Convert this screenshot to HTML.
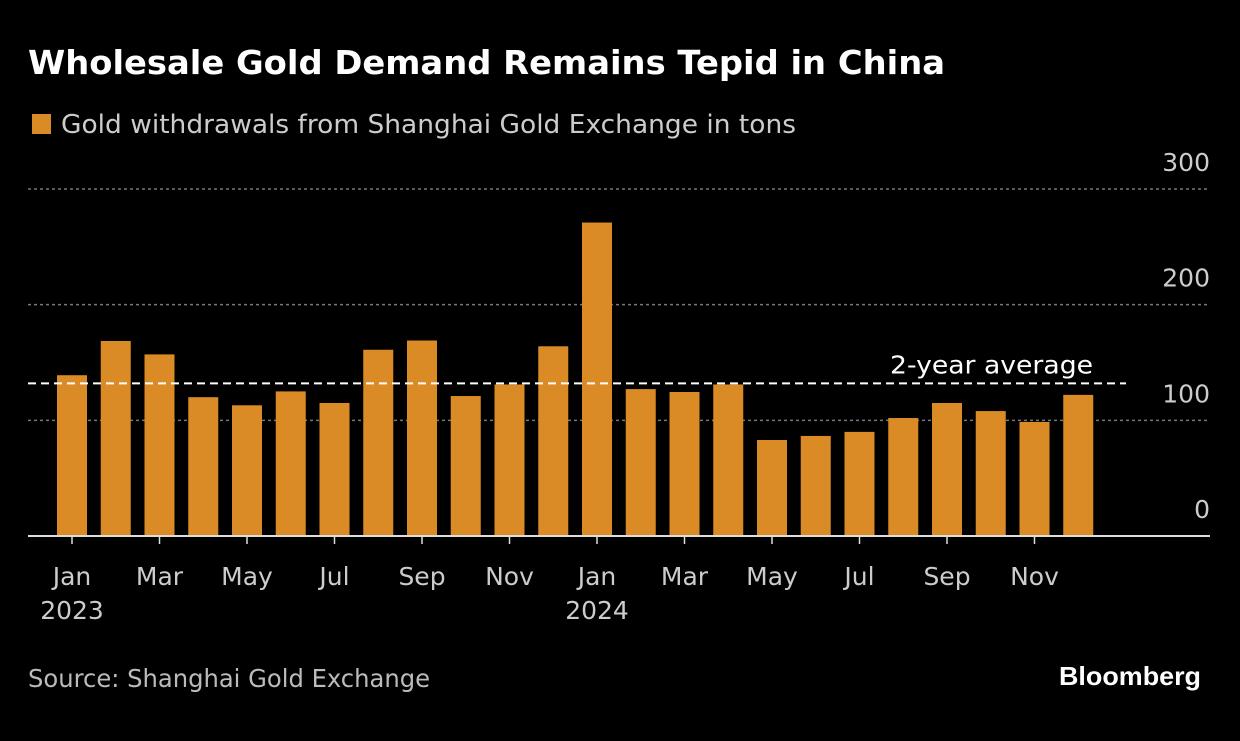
<!DOCTYPE html>
<html><head><meta charset="utf-8"><style>
body{margin:0;background:#000;width:1240px;height:736px;overflow:hidden;font-family:"Liberation Sans","DejaVu Sans",sans-serif;color:#fff}
</style></head><body>
<svg id="c" width="1240" height="736">
<text x="28" y="74" font-size="33" font-weight="bold" fill="#fff" font-family="DejaVu Sans, sans-serif" textLength="917" lengthAdjust="spacingAndGlyphs">Wholesale Gold Demand Remains Tepid in China</text>
<rect x="32" y="114" width="19" height="20" fill="#db8b26"/>
<text x="61" y="133" font-size="26" fill="#ccc" font-family="DejaVu Sans, sans-serif" textLength="735" lengthAdjust="spacingAndGlyphs">Gold withdrawals from Shanghai Gold Exchange in tons</text>
<text x="28" y="687" font-size="25" fill="#bbb" font-family="DejaVu Sans, sans-serif" textLength="402" lengthAdjust="spacingAndGlyphs">Source: Shanghai Gold Exchange</text>
<text x="1059" y="685" font-size="26" font-weight="bold" fill="#fff" textLength="142" lengthAdjust="spacingAndGlyphs">Bloomberg</text>
<g id="grid"></g><g id="bars"></g><g id="axis"></g>
</svg>
<script>
const values=[139,168.6,157,120,113,125,115,161,169,121,131,164,271,127,124.5,131,83,86.5,90,102,115,108,98.6,122];
const yTicks=[0,100,200,300];
const xLabels=["Jan","Mar","May","Jul","Sep","Nov","Jan","Mar","May","Jul","Sep","Nov"];
const yearLabels=["2023","2024"];
const average=132;
const NS="http://www.w3.org/2000/svg";
const y0=536,pxPer=1.1567,x0=72,step=43.75,bw=30;
const FF='DejaVu Sans, sans-serif';
const y=v=>y0-v*pxPer, x=i=>x0+i*step;
function mk(t,a,p){const e=document.createElementNS(NS,t);for(const k in a)e.setAttribute(k,a[k]);p.appendChild(e);return e;}
const g=document.getElementById('grid'),b=document.getElementById('bars'),ax=document.getElementById('axis');
yTicks.forEach(v=>{
 if(v>0){const l=mk('line',{x1:28,x2:1210,y1:y(v),y2:y(v),stroke:'#777','stroke-dasharray':'3,3','stroke-width':1.5},g);
 
 }
 const t=mk('text',{x:1210,y:y(v)-18,'font-size':25,fill:'#ccc','text-anchor':'end','font-family':FF},g);
 t.textContent=v;
 
 
});
values.forEach((v,i)=>{
 const r=mk('rect',{x:x(i)-bw/2,y:y(v),width:bw,height:y0-y(v),fill:'#db8b26'},b);
 
 
});
const al=mk('line',{x1:28,x2:1126,y1:y(average),y2:y(average),stroke:'#fff','stroke-dasharray':'8,5','stroke-width':2},ax);


const at=mk('text',{x:890,y:y(average)-10,'font-size':25,fill:'#fff','font-family':FF,textLength:203,lengthAdjust:'spacingAndGlyphs'},ax);
at.textContent='2-year average';


const base=mk('line',{x1:28,x2:1210,y1:y0,y2:y0,stroke:'#ddd','stroke-width':2},ax);


xLabels.forEach((m,k)=>{
 const i=k*2;
 const tk=mk('line',{x1:x(i),x2:x(i),y1:y0,y2:y0+8,stroke:'#ddd','stroke-width':1.5},ax);
 
 
 const t=mk('text',{x:x(i),y:585,'font-size':25,fill:'#ccc','text-anchor':'middle','font-family':FF},ax);
 t.textContent=m;
 
 
});
yearLabels.forEach((yr,k)=>{
 const t=mk('text',{x:x(k*12),y:619,'font-size':25,fill:'#ccc','text-anchor':'middle','font-family':FF},ax);
 t.textContent=yr;
 
 
});
</script>
</body></html>
